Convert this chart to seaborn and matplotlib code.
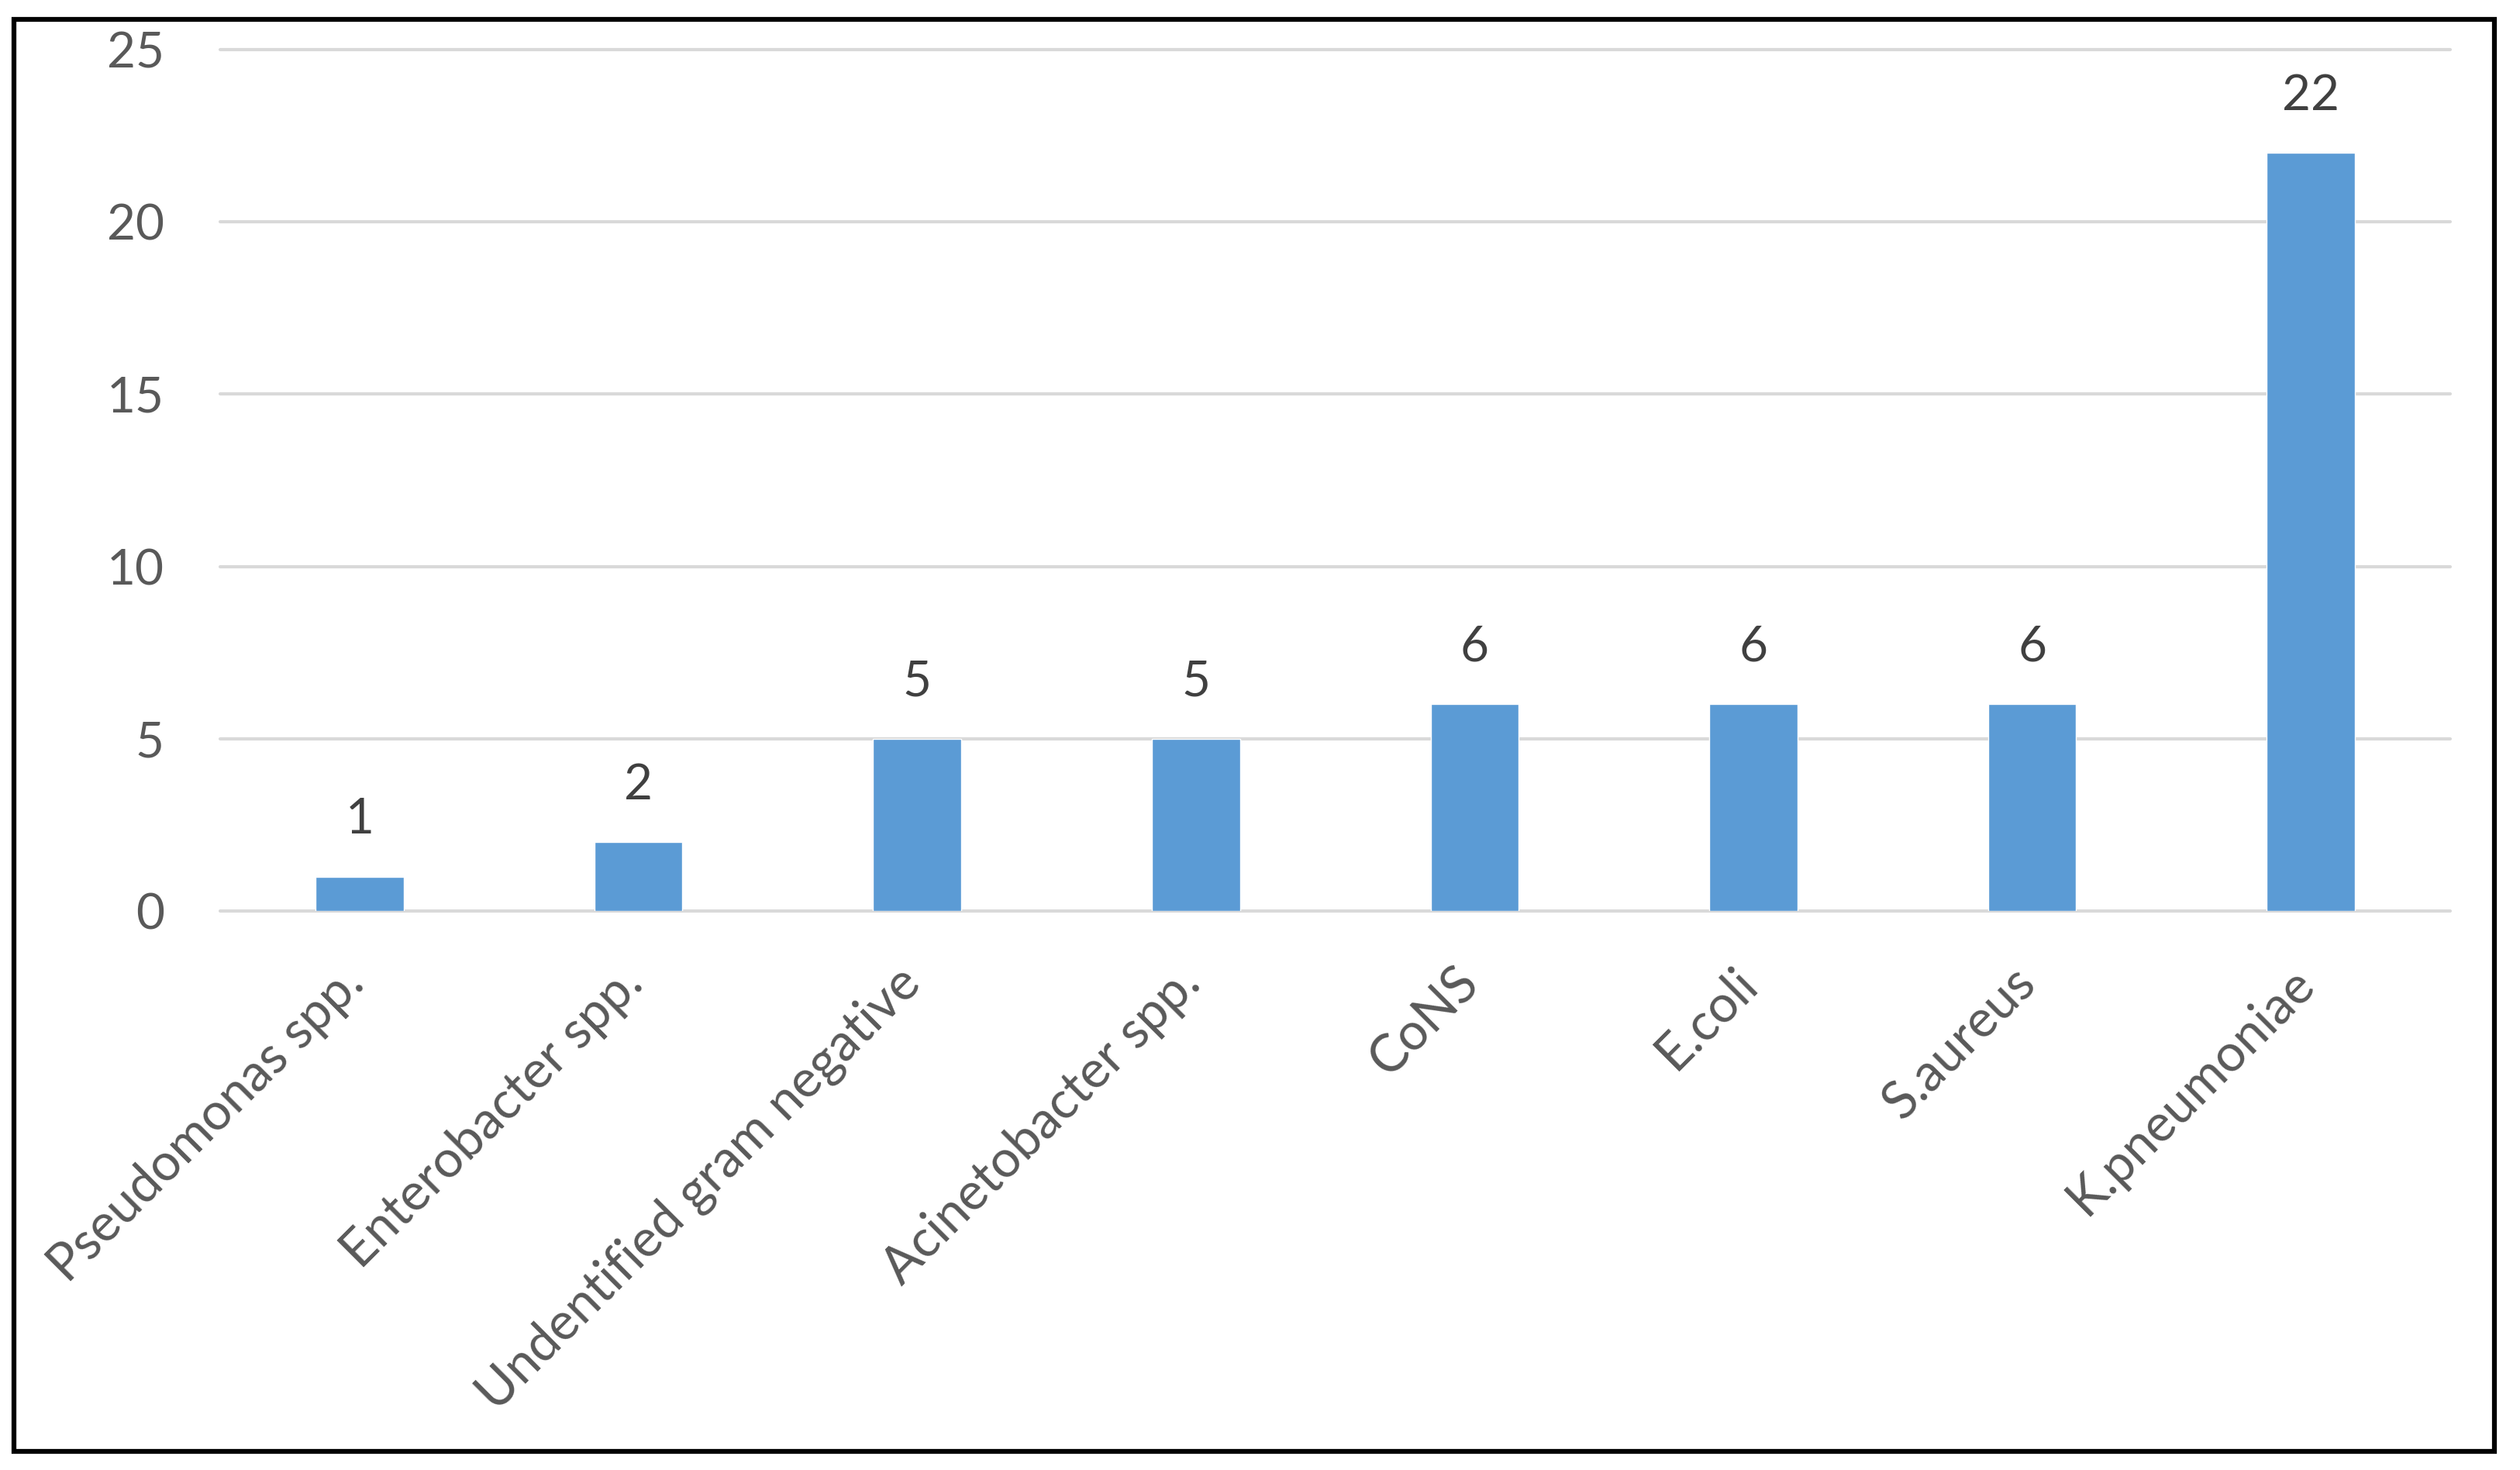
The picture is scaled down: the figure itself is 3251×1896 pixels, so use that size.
import numpy as np
import pandas as pd
import seaborn as sns
import matplotlib.pyplot as plt
from matplotlib.patches import Rectangle
from matplotlib.transforms import ScaledTranslation

organisms = ["Pseudomonas spp.", "Enterobacter spp.", "Undentified gram negative",
             "Acinetobacter spp.", "CoNS", "E.coli", "S.aureus", "K.pneumoniae"]
counts = [1, 2, 5, 5, 6, 6, 6, 22]
y_ticks = [0, 5, 10, 15, 20, 25]

df = pd.DataFrame({"organism": organisms, "count": counts})

sns.set_theme(style="white")
plt.rcParams["font.family"] = ["Lato", "DejaVu Sans"]

fig = plt.figure(figsize=(32.51, 18.96), dpi=100)
ax = fig.add_axes([0.0874, 0.3803, 0.8849, 0.5859])

sns.barplot(data=df, x="organism", y="count", color="#5B9BD5", saturation=1,
            width=0.316, ax=ax)

ax.set_xlim(-0.5, len(organisms) - 0.5)
ax.set_ylim(0, 25)
ax.set_yticks(y_ticks)
ax.set_xlabel("")
ax.set_ylabel("")
ax.set_axisbelow(True)
ax.yaxis.grid(True, color="#D9D9D9", linewidth=3)
for gl in ax.get_ygridlines():
    gl.set_clip_on(False)
for side in ["top", "right", "left", "bottom"]:
    ax.spines[side].set_visible(False)

ax.tick_params(axis="y", length=0, pad=52, labelsize=46, labelcolor="#595959")
ax.tick_params(axis="x", length=0, pad=44, labelsize=48, labelcolor="#595959")

# rotated category labels, shifted a little right like the original
shift = ScaledTranslation(0.17, 0, fig.dpi_scale_trans)
for lab in ax.get_xticklabels():
    lab.set_rotation(45)
    lab.set_ha("right")
    lab.set_transform(lab.get_transform() + shift)

ax.bar_label(ax.containers[0], padding=32, fontsize=46, color="#404040")

# black frame round the whole chart
frame = Rectangle((18 / 3251, 1 - 1872 / 1896), (3218 - 18) / 3251, (1872 - 25) / 1896,
                  transform=fig.transFigure, fill=False, linewidth=4.5, edgecolor="black")
fig.patches.append(frame)

fig.savefig("out.png", dpi=100)
